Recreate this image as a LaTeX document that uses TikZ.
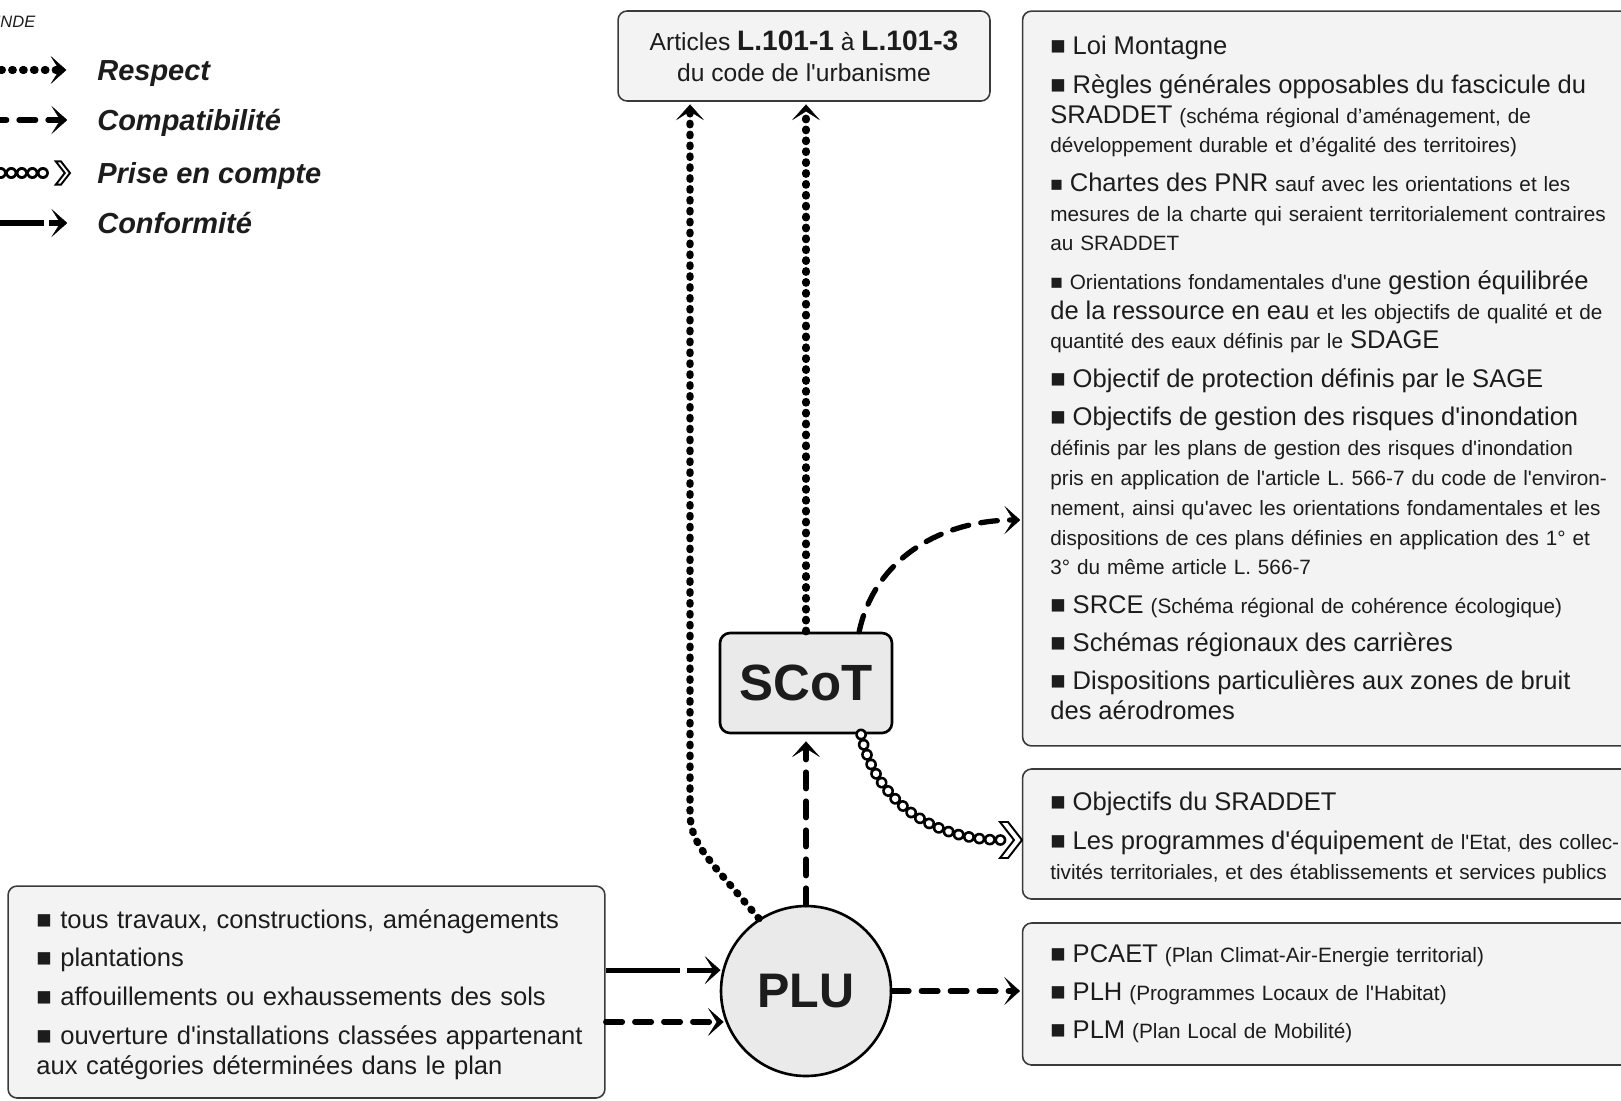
\documentclass[tikz,border=0pt]{standalone}
\usepackage{fontspec}
\setmainfont{Liberation Sans}[Ligatures=TeXOff]
\usetikzlibrary{arrows.meta}

\definecolor{fondboite}{HTML}{F3F3F3}
\definecolor{fondnoeud}{HTML}{EAEAEA}
\definecolor{traitboite}{HTML}{3A3A3A}
\definecolor{encre}{HTML}{1C1C1C}

\newcommand{\grand}{\fontsize{14.55pt}{17pt}\selectfont}
\newcommand{\petit}{\fontsize{11.8pt}{17pt}\selectfont}

\tikzset{
  opentip/.pic={\draw[fill=white, line width=1.1pt, line join=miter]
    (-22,-18) -- (-14,-18) -- (0,0) -- (-14,18) -- (-22,18) -- (-8,0) -- cycle;}
}

\begin{document}
\begin{tikzpicture}[x=0.02cm, y=-0.02cm,
    >={Stealth[length=9pt, width=16pt, inset=5pt, line width=0.2pt]},
    boite/.style={draw=traitboite, line width=0.9pt, fill=fondboite, rounded corners=0.18cm, text=encre},
    noeud/.style={draw=black, line width=1.5pt, fill=fondnoeud, inner sep=0pt, text=encre,
      font=\bfseries\fontsize{29pt}{32pt}\selectfont},
    texte/.style={anchor=north west, inner sep=0pt, text width=14cm, align=left, text=encre, font=\petit},
    respect/.style={->, line width=4.2pt, line cap=round, dash pattern=on 0.8pt off 5.4pt, shorten >=1.5pt},
    compat/.style={->, line width=3pt, line cap=round, dash pattern=on 9.5pt off 7pt, shorten >=1pt},
    conformite/.style={->, line width=3pt, dash pattern=on 42pt off 4pt on 200pt off 1pt, shorten >=1pt},
    prise/.style={draw=white, line width=3.6pt, line cap=round, dash pattern=on 0.2pt off 5.8pt,
      preaction={draw=black, line width=6.6pt, line cap=round, dash pattern=on 0.2pt off 5.8pt}},
    legende/.style={anchor=base west, inner sep=0pt, text=encre,
      font=\bfseries\itshape\fontsize{16.5pt}{18pt}\selectfont}
  ]
  \useasboundingbox (0,0) rectangle (1621,1100);
  \clip (0,0) rectangle (1621,1100);

  % Legende
  \node[anchor=base west, inner sep=0pt, text=encre, font=\itshape\fontsize{9.4pt}{11pt}\selectfont]
    (titre) at (-44,27) {LÉGENDE};
  \node[legende] (leg1) at (97,80) {Respect};
  \node[legende] (leg2) at (97,130) {Compatibilité};
  \node[legende] (leg3) at (97,183) {Prise en compte};
  \node[legende] (leg4) at (97,233) {Conformité};
  \coordinate (l1) at (-10,70);  \coordinate (e1) at (69,70);
  \coordinate (l2) at (-10,120); \coordinate (e2) at (69,120);
  \coordinate (l3) at (-10,173); \coordinate (e3) at (70,173); \coordinate (e3b) at (50,173);
  \coordinate (l4) at (-10,223); \coordinate (e4) at (69,223);
  \draw[respect] (l1) -- (e1);
  \draw[compat] (l2) -- (e2);
  \draw[prise] (l3) -- (e3b);
  \pic[scale=0.65] at (e3) {opentip};
  \draw[conformite, dash pattern=on 31pt off 2.5pt on 100pt off 1pt] (l4) -- (e4);

  % Cadres
  \node[boite, minimum width=7.44cm, minimum height=1.8cm, align=center,
    font=\fontsize{14pt}{17.6pt}\selectfont] (articles) at (804,56)
    {Articles {\fontsize{16pt}{17.6pt}\selectfont\bfseries L.101-1} à
     {\fontsize{16pt}{17.6pt}\selectfont\bfseries L.101-3}\\du code de l'urbanisme};
  \node[boite, minimum width=12.54cm, minimum height=14.7cm] (boiteA) at (1336,378.5) {};
  \node[boite, minimum width=12.54cm, minimum height=2.6cm] (boiteB) at (1336,834) {};
  \node[boite, minimum width=12.54cm, minimum height=2.84cm] (boiteC) at (1336,994) {};
  \node[boite, minimum width=11.94cm, minimum height=4.24cm] (gauche) at (306.5,992) {};

  % SCoT et PLU
  \node[noeud, rounded corners=0.2cm, minimum width=3.44cm, minimum height=2cm] (scot) at (806,683) {SCoT};
  \node[noeud, circle, minimum size=3.4cm, font=\bfseries\fontsize{27.6pt}{30pt}\selectfont]
    (plu) at (806,991) {PLU};

  % Textes des cadres
  \node[texte] (texteA) at (1050,36) {%
    {\grand ■ Loi Montagne}\\[4.8pt]
    {\grand ■ Règles générales opposables du fascicule du}\\
    {\grand SRADDET} (schéma régional d’aménagement, de\\
    développement durable et d’égalité des territoires)\\[4.8pt]
    ■ {\grand Chartes des PNR} sauf avec les orientations et les\\
    mesures de la charte qui seraient territorialement contraires\\
    au SRADDET\\[4.8pt]
    ■ Orientations fondamentales d'une {\grand gestion équilibrée}\\
    {\grand de la ressource en eau} et les objectifs de qualité et de\\
    quantité des eaux définis par le {\grand SDAGE}\\[4.8pt]
    {\grand ■ Objectif de protection définis par le SAGE}\\[4.8pt]
    {\grand ■ Objectifs de gestion des risques d'inondation}\\
    définis par les plans de gestion des risques d'inondation\\
    pris en application de l'article L. 566-7 du code de l'environ-\\
    nement, ainsi qu'avec les orientations fondamentales et les\\
    dispositions de ces plans définies en application des 1° et\\
    3° du même article L. 566-7\\[4.8pt]
    {\grand ■ SRCE} (Schéma régional de cohérence écologique)\\[4.8pt]
    {\grand ■ Schémas régionaux des carrières}\\[4.8pt]
    {\grand ■ Dispositions particulières aux zones de bruit}\\
    {\grand des aérodromes}};
  \node[texte] (texteB) at (1050,792) {%
    {\grand ■ Objectifs du SRADDET}\\[4.8pt]
    {\grand ■ Les programmes d'équipement} de l'Etat, des collec-\\
    tivités territoriales, et des établissements et services publics};
  \node[texte] (texteC) at (1050,944) {%
    {\grand ■ PCAET} (Plan Climat-Air-Energie territorial)\\[4.8pt]
    {\grand ■ PLH} (Programmes Locaux de l'Habitat)\\[4.8pt]
    {\grand ■ PLM} (Plan Local de Mobilité)};
  \node[texte, font=\grand] (texteG) at (36,909) {%
    ■ tous travaux, constructions, aménagements\\[5pt]
    ■ plantations\\[5pt]
    ■ affouillements ou exhaussements des sols\\[5pt]
    ■ ouverture d'installations classées appartenant\\
    aux catégories déterminées dans le plan};

  % Fleches depuis le PLU
  \coordinate (pli) at (714,866);
  \coordinate (coude) at (690,812);
  \draw[respect] (plu.123) -- (pli) to[out=128, in=-90] (coude) -- (coude |- articles.south);
  \draw[respect] (scot.north) -- (scot.north |- articles.south);
  \draw[compat, shorten >=4pt] (plu.north) -- (scot.south);
  \draw[compat] (plu.east) -- (plu.east -| boiteC.west);
  \draw[conformite] (gauche.east |- plu.166) -- (plu.166);
  \draw[compat] (gauche.east |- plu.201) -- (plu.201);

  % Fleches depuis le SCoT
  \coordinate (pointeA) at (1022,520);
  \draw[compat] (scot.44) to[out=78, in=180] (pointeA);
  \coordinate (pointeB) at (1022,840);
  \coordinate (queueB) at (1002,840);
  \draw[prise] (scot.-43) to[out=-78, in=180] (queueB);
  \pic at (pointeB) {opentip};
\end{tikzpicture}
\end{document}
